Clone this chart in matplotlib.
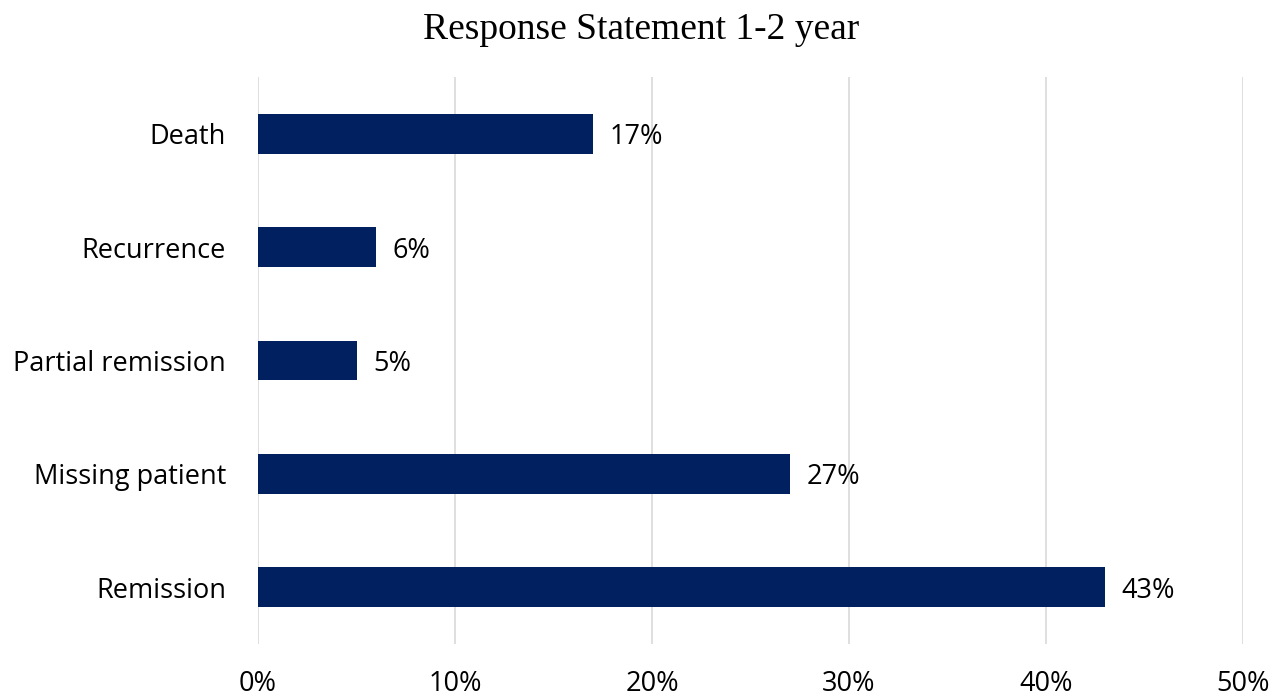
import matplotlib
matplotlib.use("Agg")
import matplotlib.pyplot as plt
from matplotlib.ticker import FuncFormatter

categories = ["Remission", "Missing patient", "Partial remission", "Recurrence", "Death"]
values = [43, 27, 5, 6, 17]
xticks = [0, 10, 20, 30, 40, 50]

fig = plt.figure(figsize=(12.82, 6.99), dpi=100)
ax = fig.add_axes([258/1282, 1-644/699, (1243-258)/1282, (644-77)/699])

ax.barh(range(len(categories)), values, height=0.35, color="#002060", zorder=3)
for i, v in enumerate(values):
    ax.text(v + 0.85, i - 0.03, f"{v}%", va="center", ha="left", fontsize=19.5,
            family="Open Sans", color="black")

ax.set_xlim(0, 50)
ax.set_ylim(-0.5, len(categories) - 0.5)
ax.set_xticks(xticks)
ax.xaxis.set_major_formatter(FuncFormatter(lambda x, p: f"{int(x)}%"))
ax.set_yticks(range(len(categories)))
ax.set_yticklabels(categories)
for lab in ax.get_xticklabels() + ax.get_yticklabels():
    lab.set_family("Open Sans")
    lab.set_fontsize(19.5)
ax.tick_params(axis="both", length=0)
ax.tick_params(axis="x", pad=19)
ax.tick_params(axis="y", pad=23)
ax.grid(axis="x", color="#d9d9d9", linewidth=1.2, zorder=0)
for s in ax.spines.values():
    s.set_visible(False)

fig.text(0.5, 1-30/699, "Response Statement 1-2 year", ha="center", va="center",
         fontsize=27, family="Liberation Serif")

fig.savefig("out.png", dpi=100)
